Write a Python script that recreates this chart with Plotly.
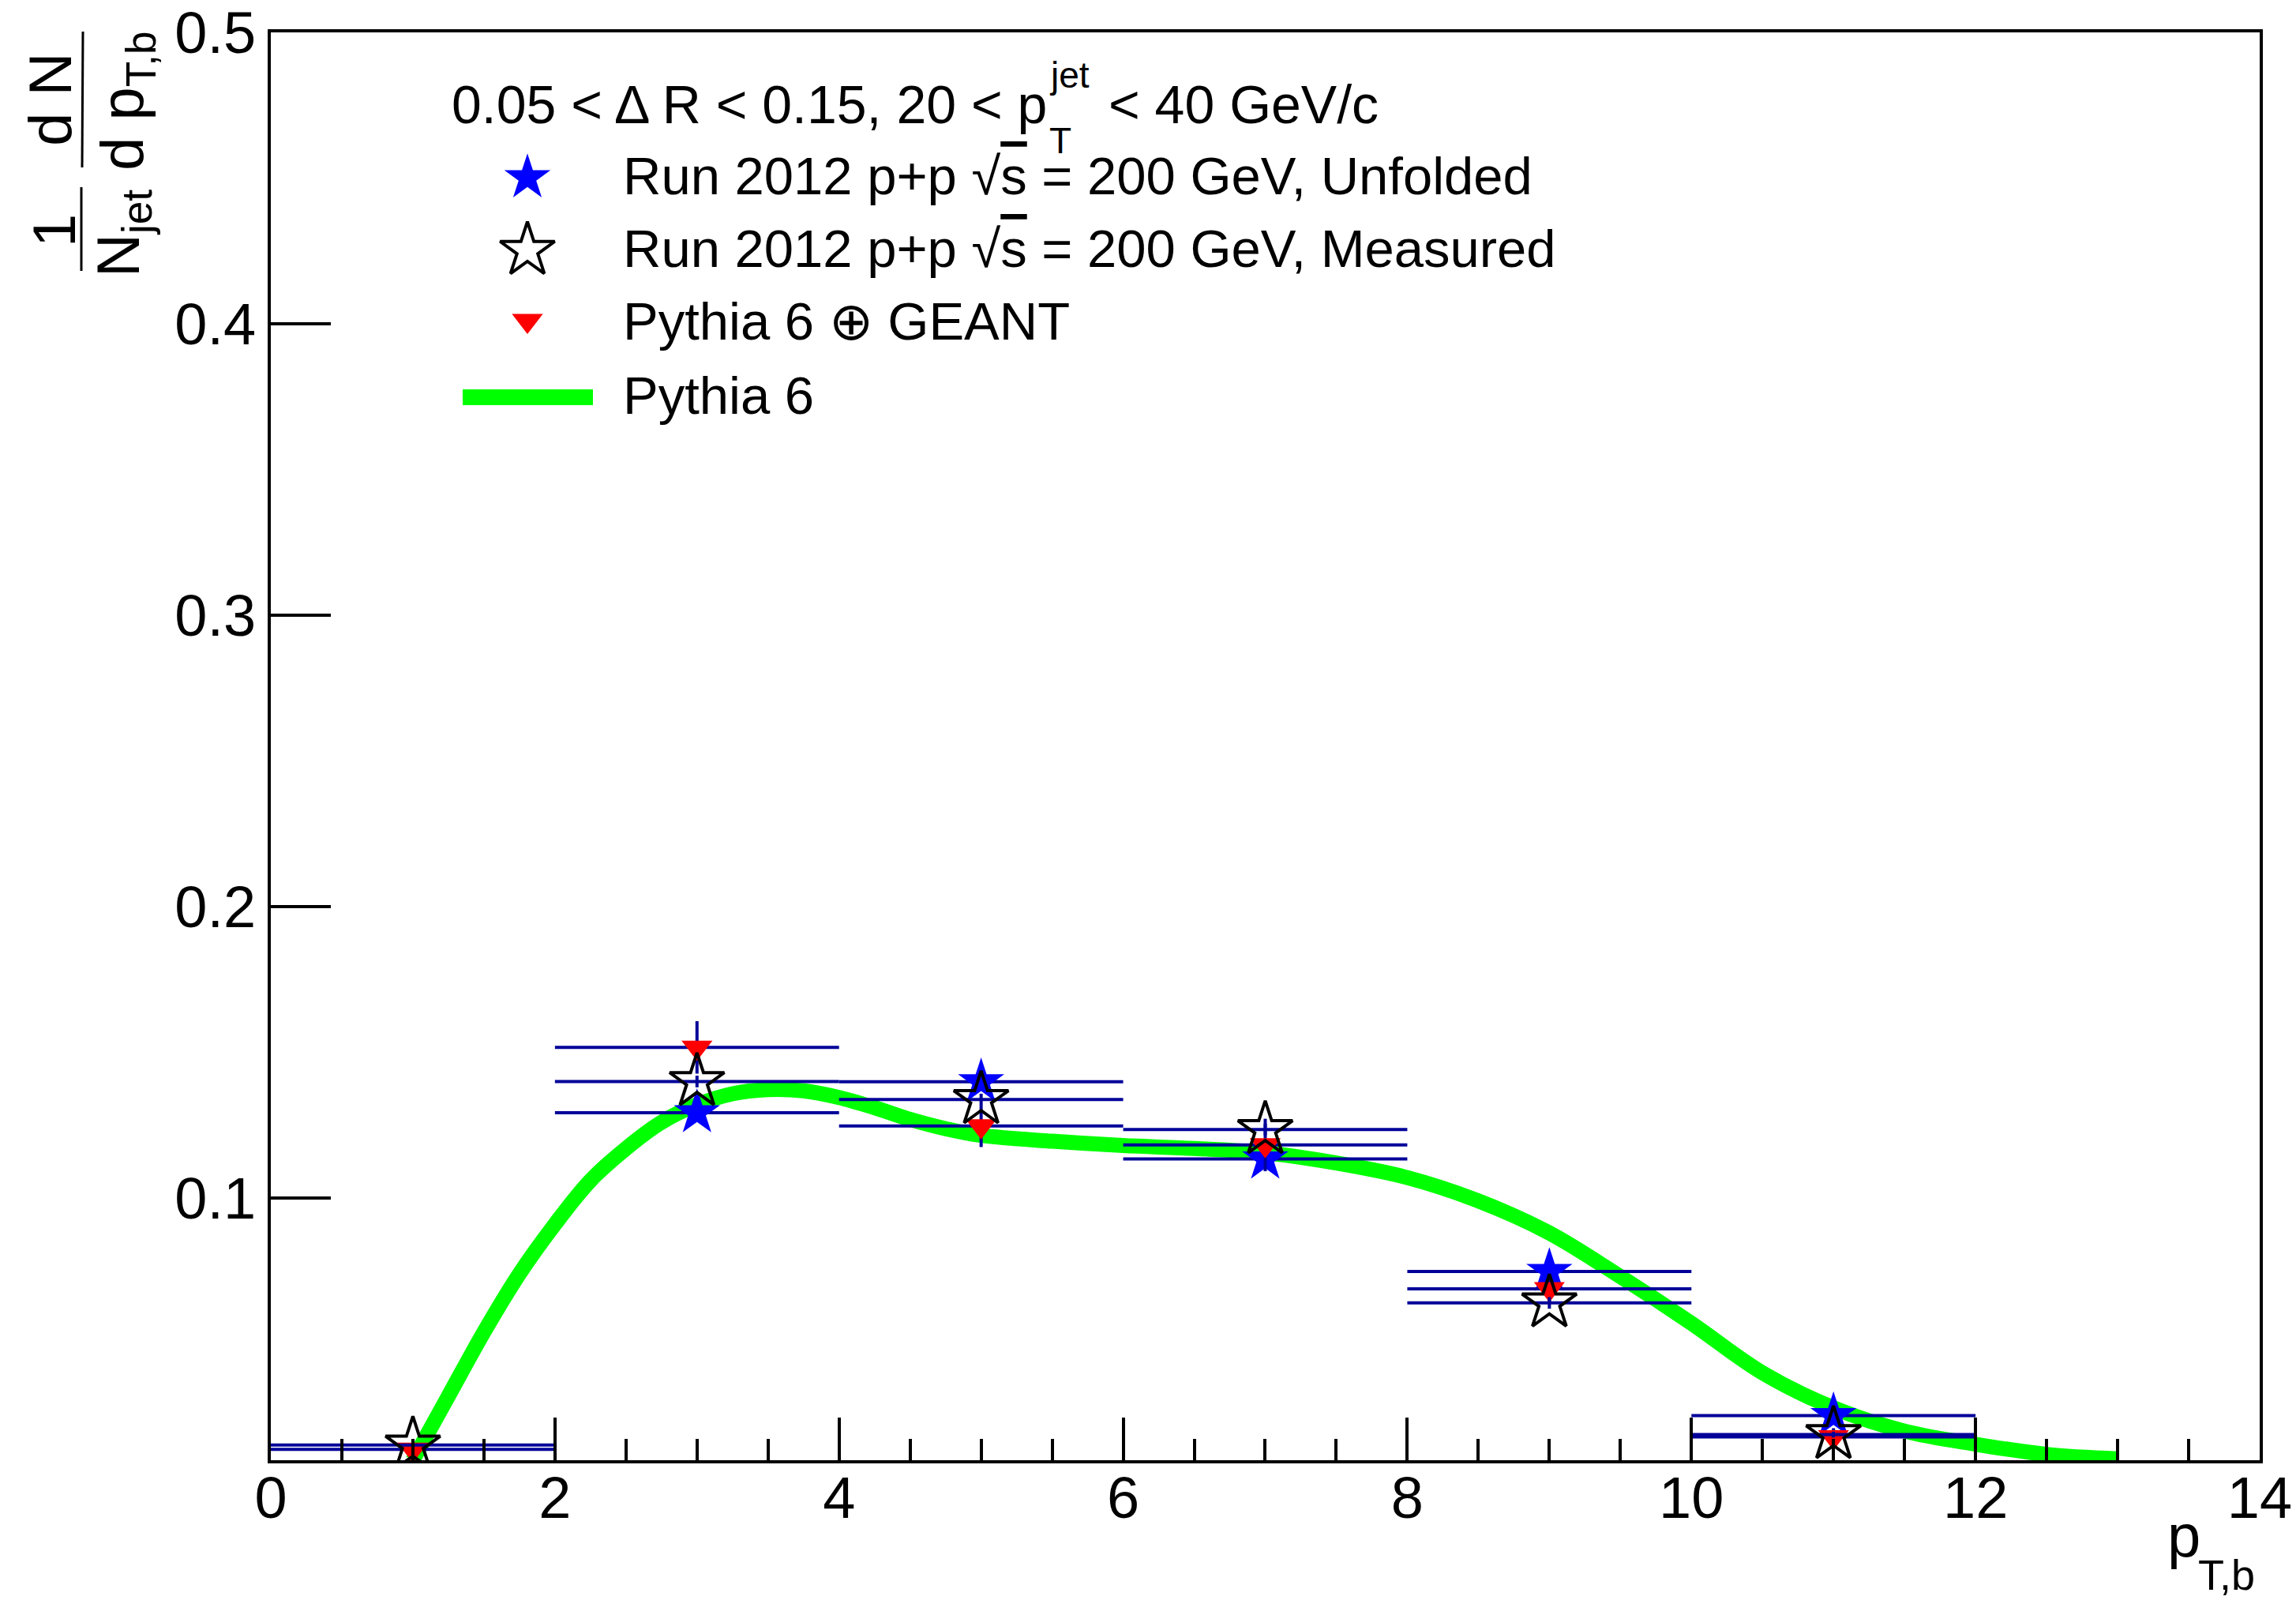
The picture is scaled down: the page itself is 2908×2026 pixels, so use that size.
import plotly.graph_objects as go

# ---------------- data ----------------
bin_centers = [1, 3, 5, 7, 9, 11]
bin_half_width = [1, 1, 1, 1, 1, 1]

unfolded = [None, 0.1293, 0.1399, 0.1134, 0.0748, 0.0253]
unfolded_err = [0.0, 0.003, 0.003, 0.003, 0.003, 0.002]

measured = [0.0152, 0.1400, 0.1338, 0.1235, 0.0640, 0.0188]
measured_err = [0.0005, 0.002, 0.002, 0.002, 0.002, 0.001]

geant = [0.0137, 0.1517, 0.1247, 0.1182, 0.0688, 0.0180]
geant_err = [0.001, 0.009, 0.0072, 0.009, 0.005, 0.003]

pythia_x = [1.0, 1.25, 1.5, 1.75, 2.0, 2.25, 2.5, 2.75, 3.0, 3.25, 3.5, 3.75,
            4.0, 4.25, 4.5, 4.75, 5.0, 5.5, 6.0, 6.5, 7.0, 7.5, 8.0, 8.5,
            9.0, 9.5, 10.0, 10.5, 11.0, 11.5, 12.0, 12.5, 13.0]
pythia_y = [0.010, 0.032, 0.054, 0.074, 0.091, 0.106, 0.117, 0.126, 0.1320,
            0.1358, 0.1372, 0.1368, 0.1345, 0.1310, 0.1270, 0.1238, 0.1215,
            0.1195, 0.1180, 0.1170, 0.1155, 0.1120, 0.1070, 0.0990, 0.0880,
            0.0730, 0.0570, 0.0400, 0.0280, 0.0200, 0.0155, 0.0120, 0.0105]

y_ticks = [0.1, 0.2, 0.3, 0.4, 0.5]
y_tick_labels = ["0.1", "0.2", "0.3", "0.4", "0.5"]
x_ticks = [0, 2, 4, 6, 8, 10, 12, 14]
x_tick_labels = ["0", "2", "4", "6", "8", "10", "12", "14"]

legend_labels = [
    "Run 2012 p+p √<span style='text-decoration:overline'>s</span> = 200 GeV, Unfolded",
    "Run 2012 p+p √<span style='text-decoration:overline'>s</span> = 200 GeV, Measured",
    "Pythia 6 ⊕ GEANT",
    "Pythia 6",
]

# ---------------- layout geometry (pixels) ----------------
W, H = 2908, 2026
L, R, T, B = 343, 46, 41, 177
PW, PH = W - L - R, H - T - B


def px(xp):
    return (xp - L) / PW


def py(yp):
    return (H - B - yp) / PH


FONT = "Liberation Sans, Arial, Helvetica, sans-serif"
NAVY = "#000099"

fig = go.Figure()

# Pythia 6 curve
fig.add_trace(go.Scatter(
    x=pythia_x, y=pythia_y, mode="lines", line=dict(color="#00ff00", width=19, shape="spline"),
    showlegend=False, hoverinfo="skip"))

# Unfolded
fig.add_trace(go.Scatter(
    x=bin_centers, y=unfolded, mode="markers",
    marker=dict(symbol="star", size=44, color="#0000ff", line=dict(width=0)),
    error_x=dict(type="data", array=bin_half_width, color=NAVY, thickness=4, width=0),
    error_y=dict(type="data", array=unfolded_err, color=NAVY, thickness=4, width=0),
    showlegend=False))

# Pythia 6 + GEANT
fig.add_trace(go.Scatter(
    x=bin_centers, y=geant, mode="markers",
    marker=dict(symbol="triangle-down", size=34, color="#ff0000", line=dict(width=0)),
    error_x=dict(type="data", array=bin_half_width, color=NAVY, thickness=4, width=0),
    error_y=dict(type="data", array=geant_err, color=NAVY, thickness=4, width=0),
    showlegend=False))

# Measured
fig.add_trace(go.Scatter(
    x=bin_centers, y=measured, mode="markers",
    marker=dict(symbol="star-open", size=52, color="#000000", line=dict(width=4, color="#000000")),
    error_x=dict(type="data", array=bin_half_width, color=NAVY, thickness=4, width=0),
    error_y=dict(type="data", array=measured_err, color=NAVY, thickness=4, width=0),
    showlegend=False))

# ---------------- manual legend ----------------
leg_marker_x = px(668)
leg_rows_y = [225, 317, 410, 503]
fig.add_trace(go.Scatter(
    x=[leg_marker_x], y=[py(leg_rows_y[0])], xaxis="x2", yaxis="y2", mode="markers",
    marker=dict(symbol="star", size=44, color="#0000ff", line=dict(width=0)),
    showlegend=False, hoverinfo="skip"))
fig.add_trace(go.Scatter(
    x=[leg_marker_x], y=[py(leg_rows_y[1])], xaxis="x2", yaxis="y2", mode="markers",
    marker=dict(symbol="star-open", size=52, color="#000000", line=dict(width=4, color="#000000")),
    showlegend=False, hoverinfo="skip"))
fig.add_trace(go.Scatter(
    x=[leg_marker_x], y=[py(leg_rows_y[2] - 4)], xaxis="x2", yaxis="y2", mode="markers",
    marker=dict(symbol="triangle-down", size=34, color="#ff0000", line=dict(width=0)),
    showlegend=False, hoverinfo="skip"))
fig.add_shape(type="line", xref="paper", yref="paper",
              x0=px(586), x1=px(751), y0=py(leg_rows_y[3]), y1=py(leg_rows_y[3]),
              line=dict(color="#00ff00", width=20))

annotations = []
for lab, yy in zip(legend_labels, leg_rows_y):
    annotations.append(dict(text=lab, xref="paper", yref="paper", x=px(787), y=py(yy - 3),
                            xanchor="left", yanchor="middle", showarrow=False,
                            font=dict(family=FONT, size=67, color="black")))

# header line: 0.05 < ΔR < 0.15, 20 < p_T^jet < 40 GeV/c
hdr_y = 132
annotations.append(dict(text="0.05 < Δ R < 0.15, 20 < p", xref="paper", yref="paper",
                        x=px(570), y=py(hdr_y), xanchor="left", yanchor="middle", showarrow=False,
                        font=dict(family=FONT, size=68, color="black")))
annotations.append(dict(text="jet", xref="paper", yref="paper",
                        x=px(1327), y=py(95), xanchor="left", yanchor="middle", showarrow=False,
                        font=dict(family=FONT, size=46, color="black")))
annotations.append(dict(text="T", xref="paper", yref="paper",
                        x=px(1327), y=py(178), xanchor="left", yanchor="middle", showarrow=False,
                        font=dict(family=FONT, size=46, color="black")))
annotations.append(dict(text="< 40 GeV/c", xref="paper", yref="paper",
                        x=px(1402), y=py(hdr_y), xanchor="left", yanchor="middle", showarrow=False,
                        font=dict(family=FONT, size=68, color="black")))

# y-axis title as a rotated fraction: (1/N_jet) (dN / dp_T,b)
annotations.append(dict(text="d N", xref="paper", yref="paper", x=px(63), y=py(126),
                        xanchor="center", yanchor="middle", textangle=-90, showarrow=False,
                        font=dict(family=FONT, size=76, color="black")))
annotations.append(dict(text="d p<sub>T,b</sub>", xref="paper", yref="paper", x=px(160), y=py(128),
                        xanchor="center", yanchor="middle", textangle=-90, showarrow=False,
                        font=dict(family=FONT, size=76, color="black")))
annotations.append(dict(text="1", xref="paper", yref="paper", x=px(68), y=py(292),
                        xanchor="center", yanchor="middle", textangle=-90, showarrow=False,
                        font=dict(family=FONT, size=76, color="black")))
annotations.append(dict(text="N<sub>jet</sub>", xref="paper", yref="paper", x=px(155), y=py(296),
                        xanchor="center", yanchor="middle", textangle=-90, showarrow=False,
                        font=dict(family=FONT, size=76, color="black")))
fig.add_shape(type="line", xref="paper", yref="paper", x0=px(105), x1=px(104), y0=py(40), y1=py(212),
              line=dict(color="black", width=3))
fig.add_shape(type="line", xref="paper", yref="paper", x0=px(103), x1=px(103), y0=py(237), y1=py(343),
              line=dict(color="black", width=3))

# x-axis title p_T,b (main letter and subscript placed separately, ROOT style)
annotations.append(dict(text="p", xref="paper", yref="paper", x=px(2766), y=py(1944),
                        xanchor="center", yanchor="middle", showarrow=False,
                        font=dict(family=FONT, size=76, color="black")))
annotations.append(dict(text="T,b", xref="paper", yref="paper", x=px(2858), y=py(1994),
                        xanchor="right", yanchor="middle", showarrow=False,
                        font=dict(family=FONT, size=54, color="black")))

fig.update_layout(
    width=W, height=H,
    margin=dict(l=L, r=R, t=T, b=B, pad=0, autoexpand=False),
    paper_bgcolor="white", plot_bgcolor="white",
    showlegend=False,
    annotations=annotations,
    xaxis=dict(range=[0, 14.0001], tickvals=x_ticks, ticktext=x_tick_labels, automargin=False,
               ticks="inside", ticklen=54, tickwidth=4, tickcolor="black",
               minor=dict(ticks="inside", ticklen=27, tickwidth=4, tickcolor="black", dtick=0.5),
               showline=True, linewidth=4, linecolor="black", mirror=True,
               showgrid=False, zeroline=False, ticklabelstandoff=-20,
               tickfont=dict(family=FONT, size=74, color="black")),
    yaxis=dict(range=[0.01, 0.5001], tickvals=y_ticks, ticktext=y_tick_labels, automargin=False,
               ticks="inside", ticklen=76, tickwidth=4, tickcolor="black",
               showline=True, linewidth=4, linecolor="black", mirror=True,
               showgrid=False, zeroline=False, ticklabelstandoff=0,
               tickfont=dict(family=FONT, size=74, color="black")),
    xaxis2=dict(overlaying="x", range=[0, 1], visible=False, automargin=False),
    yaxis2=dict(overlaying="y", range=[0, 1], visible=False, automargin=False),
)

fig.write_html("out.html")
